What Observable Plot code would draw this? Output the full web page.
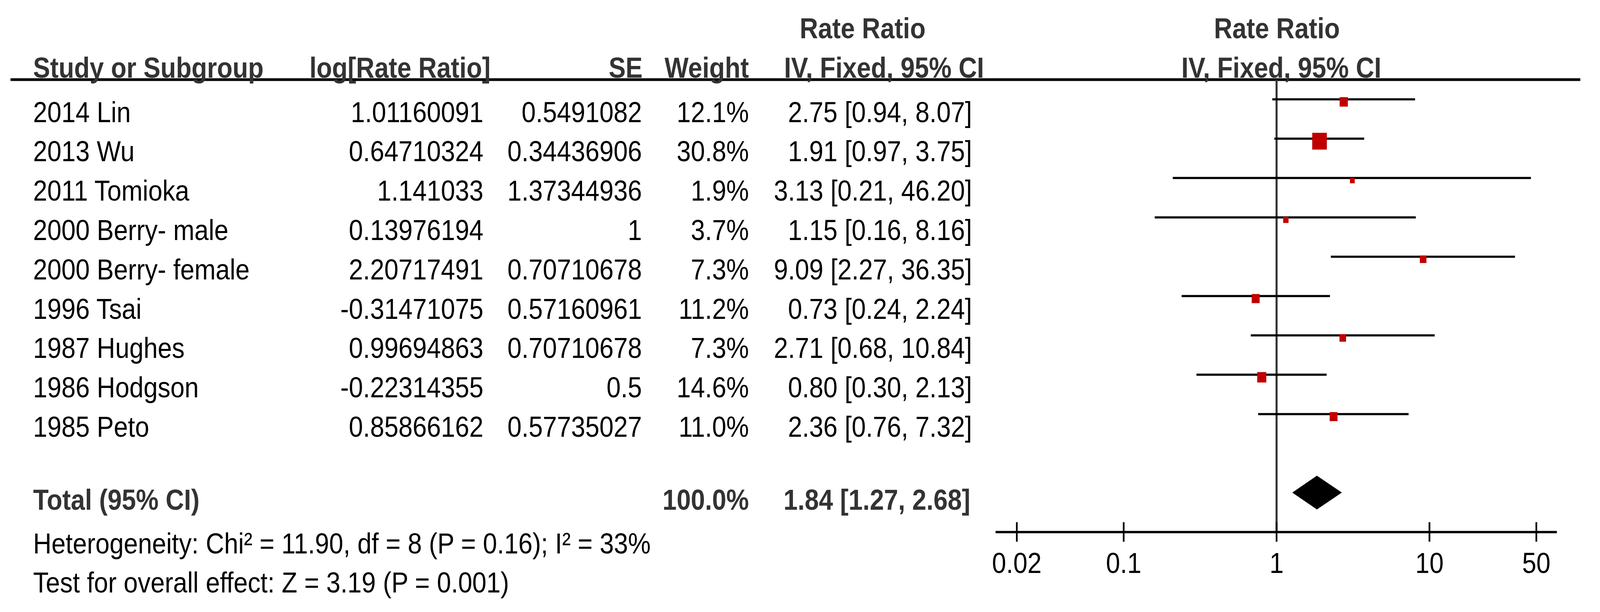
<!DOCTYPE html>
<html>
<head>
<meta charset="utf-8">
<script src="https://cdn.jsdelivr.net/npm/d3@7"></script>
<script src="https://cdn.jsdelivr.net/npm/@observablehq/plot@0.6"></script>
<style>
  html, body { margin: 0; padding: 0; background: #fff; overflow: hidden; }
  #chart svg { display: block; width: 100vw; height: 100vh; max-width: none; }
</style>
</head>
<body>
<div id="chart"></div>
<script>
// ---- data ----
const studies = ["2014 Lin", "2013 Wu", "2011 Tomioka", "2000 Berry- male", "2000 Berry- female",
                 "1996 Tsai", "1987 Hughes", "1986 Hodgson", "1985 Peto"];
const logRR   = [1.01160091, 0.64710324, 1.141033, 0.13976194, 2.20717491,
                 -0.31471075, 0.99694863, -0.22314355, 0.85866162];
const seVals  = [0.5491082, 0.34436906, 1.37344936, 1, 0.70710678,
                 0.57160961, 0.70710678, 0.5, 0.57735027];
const weight  = [12.1, 30.8, 1.9, 3.7, 7.3, 11.2, 7.3, 14.6, 11.0];
const rateRatio = [2.75, 1.91, 3.13, 1.15, 9.09, 0.73, 2.71, 0.80, 2.36];
const ciLower = [0.94, 0.97, 0.21, 0.16, 2.27, 0.24, 0.68, 0.30, 0.76];
const ciUpper = [8.07, 3.75, 46.20, 8.16, 36.35, 2.24, 10.84, 2.13, 7.32];

const totalLabel = "Total (95% CI)";
const totalWeight = 100.0;
const totalRR = 1.84, totalLower = 1.27, totalUpper = 2.68;

const heterogeneityText = "Heterogeneity: Chi² = 11.90, df = 8 (P = 0.16); I² = 33%";
const overallText = "Test for overall effect: Z = 3.19 (P = 0.001)";

const xTicks = [0.02, 0.1, 1, 10, 50];
const xTickLabels = ["0.02", "0.1", "1", "10", "50"];

const headers = {
  study: "Study or Subgroup", logrr: "log[Rate Ratio]", se: "SE", weight: "Weight",
  rr: "Rate Ratio", method: "IV, Fixed, 95% CI"
};

// ---- derived tables ----
const fmtCI = (m, l, u) => `${m.toFixed(2)} [${l.toFixed(2)}, ${u.toFixed(2)}]`;
const rows = studies.map((s, i) => ({
  i, study: s, logrr: String(logRR[i]), se: String(seVals[i]),
  w: weight[i], wText: weight[i].toFixed(1) + "%",
  rr: rateRatio[i], lo: ciLower[i], hi: ciUpper[i],
  ciText: fmtCI(rateRatio[i], ciLower[i], ciUpper[i])
}));

// ---- layout / style ----
const W = 4712, H = 1568;
const FONT = "'Liberation Sans', Arial, Helvetica, sans-serif";
const FS = 75;
const HEAD = "#333333";
const headerRow = -0.5, totalRow = 10, axisRow = 11;
const diamondHalf = 0.43;

const diamond = [
  {x: totalLower, y1: totalRow, y2: totalRow},
  {x: totalRR, y1: totalRow - diamondHalf, y2: totalRow + diamondHalf},
  {x: totalUpper, y1: totalRow, y2: totalRow}
];

function label(text, dx, dy, anchor, opts = {}) {
  return Plot.text([text], {
    text: d => d, frameAnchor: "top-left", lineAnchor: "middle",
    textAnchor: anchor, dx, dy, fontSize: FS, fill: "black", ...opts
  });
}
function col(field, dx, anchor, opts = {}) {
  return Plot.text(rows, {
    frameAnchor: "left", y: "i", text: field, dx, dy: 34,
    textAnchor: anchor, lineAnchor: "middle", fontSize: FS, fill: "black", ...opts
  });
}

const bold = {fontWeight: "bold", fill: HEAD};

const chart = Plot.plot({
  width: W, height: H,
  marginLeft: 31, marginRight: 58, marginTop: 254, marginBottom: 306,
  x: {type: "log", domain: [xTicks[0], xTicks[xTicks.length - 1]], range: [2994, 4524], axis: null},
  y: {type: "linear", domain: [0, totalRow], range: [254, 1262], axis: null},
  r: {type: "linear", domain: [0, d3.max(weight)], range: [6.8, 24.3]},
  style: {fontFamily: FONT, background: "white"},
  marks: [
    // header rule
    Plot.ruleY([headerRow], {stroke: "black", strokeWidth: 7}),
    // headers
    label(headers.study, 66, -80, "start", bold),
    label(headers.logrr, 1413, -80, "end", bold),
    label(headers.se, 1861, -80, "end", bold),
    label(headers.weight, 2174, -80, "end", bold),
    label(headers.rr, 2509, -181, "middle", bold),
    label(headers.method, 2572, -80, "middle", bold),
    label(headers.rr, 3729, -181, "middle", bold),
    label(headers.method, 3742, -80, "middle", bold),
    // table columns
    col("study", 66, "start"),
    col("logrr", 1392, "end"),
    col("se", 1859, "end"),
    col("wText", 2174, "end"),
    col("ciText", 2831, "end"),
    // total row
    Plot.text([totalLabel], {text: d => d, frameAnchor: "left", y: () => totalRow, dx: 66, dy: 19,
      textAnchor: "start", lineAnchor: "middle", fontSize: FS, ...bold}),
    Plot.text([totalWeight], {text: d => d.toFixed(1) + "%", frameAnchor: "left", y: () => totalRow, dx: 2174, dy: 19,
      textAnchor: "end", lineAnchor: "middle", fontSize: FS, ...bold}),
    Plot.text([totalRR], {text: () => fmtCI(totalRR, totalLower, totalUpper), frameAnchor: "left", y: () => totalRow, dx: 2826, dy: 19,
      textAnchor: "end", lineAnchor: "middle", fontSize: FS, ...bold}),
    // footnotes
    Plot.text([heterogeneityText], {text: d => d, frameAnchor: "left", y: () => axisRow, dx: 66, dy: 31,
      textAnchor: "start", lineAnchor: "middle", fontSize: FS, fill: "black"}),
    Plot.text([overallText], {text: d => d, frameAnchor: "left", y: () => axisRow + 1, dx: 66, dy: 30,
      textAnchor: "start", lineAnchor: "middle", fontSize: FS, fill: "black"}),
    // null line
    Plot.ruleX([1], {y1: () => headerRow, y2: () => axisRow, stroke: "#333333", strokeWidth: 6}),
    // CI lines
    Plot.ruleY(rows, {y: "i", x1: "lo", x2: "hi", stroke: "black", strokeWidth: 5.5}),
    // squares
    Plot.dot(rows, {x: "rr", y: "i", r: "w", symbol: "square", fill: "#c00000", dy: 6.5}),
    // diamond
    Plot.areaY(diamond, {x: "x", y1: "y1", y2: "y2", fill: "black"}),
    // x axis
    Plot.ruleY([axisRow], {x1: () => xTicks[0], x2: () => xTicks[xTicks.length - 1],
      insetLeft: -62, insetRight: -61, stroke: "black", strokeWidth: 6}),
    Plot.ruleX(xTicks, {x: d => d, y1: () => axisRow, y2: () => axisRow,
      insetTop: -25, insetBottom: -25, stroke: "black", strokeWidth: 5}),
    Plot.text(xTicks, {x: d => d, y: () => axisRow, text: (d, i) => xTickLabels[i], dy: 81,
      lineAnchor: "middle", fontSize: FS, fill: "black"})
  ]
});
// the window may be narrower than 4712px: fill it, keeping the reference's 4712x1568 geometry
chart.setAttribute("preserveAspectRatio", "none");
chart.style.width = "100vw";
chart.style.height = "100vh";
chart.style.maxWidth = "none";
document.getElementById("chart").appendChild(chart);
</script>
</body>
</html>
